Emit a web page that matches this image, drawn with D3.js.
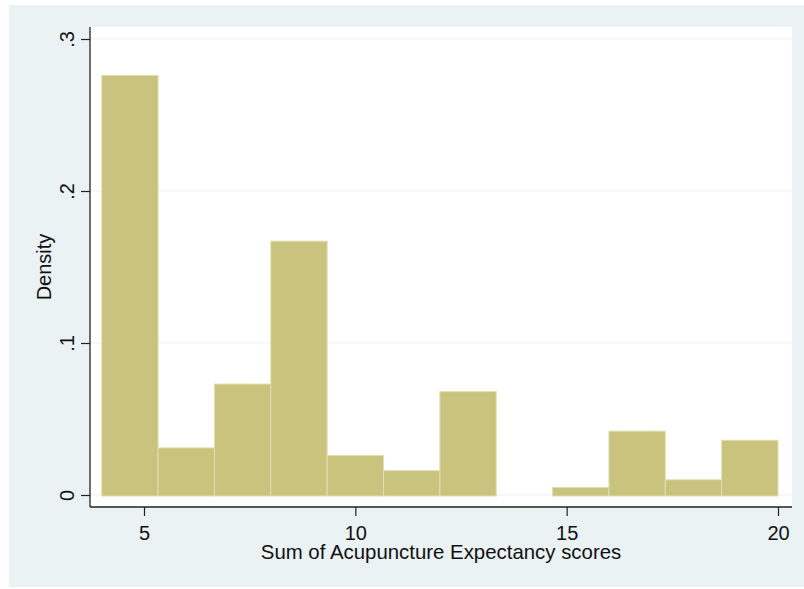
<!DOCTYPE html>
<html>
<head>
<meta charset="utf-8">
<script src="https://cdn.jsdelivr.net/npm/d3@7"></script>
<style>
  html, body { margin: 0; padding: 0; background: #ffffff; }
  svg { display: block; }
  text { font-family: "Liberation Sans", Arial, sans-serif; fill: #111111; }
</style>
</head>
<body>
<svg id="chart" width="804" height="589"></svg>
<script>
// Histogram bins (left/right edges) and density per bin
const binEdges = [4, 16 / 3, 20 / 3, 8, 28 / 3, 32 / 3, 12, 40 / 3, 44 / 3, 16, 52 / 3, 56 / 3, 20];
const densities = [0.276, 0.031, 0.073, 0.167, 0.026, 0.016, 0.068, 0, 0.005, 0.042, 0.010, 0.036];

// Axis ticks and labels
const xTicks = [5, 10, 15, 20];
const yTicks = [0, 0.1, 0.2, 0.3];
const yTickLabels = ["0", ".1", ".2", ".3"];
const xTitle = "Sum of Acupuncture Expectancy scores";
const yTitle = "Density";

const svg = d3.select("#chart");

// Graph region and plot region
const outer = { x: 9, y: 5, w: 795, h: 582 };
const plot = { left: 90, top: 27, right: 792, bottom: 507 };

const x = d3.scaleLinear().domain([5, 20]).range([144, 778]);
const y = d3.scaleLinear().domain([0, 0.3]).range([495, 39]);

svg.append("rect")
  .attr("x", outer.x).attr("y", outer.y)
  .attr("width", outer.w).attr("height", outer.h)
  .attr("fill", "#EAF2F3");

svg.append("rect")
  .attr("x", plot.left).attr("y", plot.top)
  .attr("width", plot.right - plot.left).attr("height", plot.bottom - plot.top)
  .attr("fill", "#ffffff");

// Horizontal grid lines
svg.append("g")
  .selectAll("line")
  .data(yTicks)
  .join("line")
  .attr("x1", plot.left).attr("x2", plot.right)
  .attr("y1", d => y(d)).attr("y2", d => y(d))
  .attr("stroke", "#EAF2F3")
  .attr("stroke-width", 1.2);

// Bars
const bins = densities.map((d, i) => ({ x0: binEdges[i], x1: binEdges[i + 1], d }));
svg.append("g")
  .selectAll("rect")
  .data(bins.filter(b => b.d > 0))
  .join("rect")
  .attr("x", b => x(b.x0))
  .attr("width", b => x(b.x1) - x(b.x0))
  .attr("y", b => y(b.d))
  .attr("height", b => y(0) - y(b.d) + 1)
  .attr("fill", "#C9C37D")
  .attr("stroke", "#E2DEB2")
  .attr("stroke-width", 1);

// Y axis
const yAxis = d3.axisLeft(y)
  .tickValues(yTicks)
  .tickFormat((d, i) => yTickLabels[i])
  .tickSize(9)
  .tickSizeOuter(0)
  .tickPadding(0);

const gy = svg.append("g")
  .attr("transform", `translate(${plot.left},0)`)
  .call(yAxis);
gy.select(".domain").remove();
gy.selectAll(".tick line").attr("stroke", "#222").attr("stroke-width", 1.2);
gy.selectAll(".tick text")
  .attr("font-size", 20)
  .attr("text-anchor", "middle")
  .attr("x", null).attr("dy", null)
  .attr("transform", "translate(-16.5,0) rotate(-90)");

svg.append("line")
  .attr("x1", plot.left).attr("x2", plot.left)
  .attr("y1", plot.top).attr("y2", plot.bottom)
  .attr("stroke", "#222").attr("stroke-width", 1.3);

// X axis
const xAxis = d3.axisBottom(x)
  .tickValues(xTicks)
  .tickFormat(d3.format("d"))
  .tickSize(9)
  .tickSizeOuter(0)
  .tickPadding(0);

const gx = svg.append("g")
  .attr("transform", `translate(0,${plot.bottom})`)
  .call(xAxis);
gx.select(".domain").remove();
gx.selectAll(".tick line").attr("stroke", "#222").attr("stroke-width", 1.2);
gx.selectAll(".tick text")
  .attr("font-size", 20)
  .attr("y", 33).attr("dy", null);

svg.append("line")
  .attr("x1", plot.left).attr("x2", plot.right)
  .attr("y1", plot.bottom).attr("y2", plot.bottom)
  .attr("stroke", "#222").attr("stroke-width", 1.3);

// Axis titles
svg.append("text")
  .attr("x", (plot.left + plot.right) / 2)
  .attr("y", 559)
  .attr("text-anchor", "middle")
  .attr("font-size", 20.4)
  .text(xTitle);

svg.append("text")
  .attr("transform", `translate(51,${(plot.top + plot.bottom) / 2}) rotate(-90)`)
  .attr("text-anchor", "middle")
  .attr("font-size", 20)
  .text(yTitle);
</script>
</body>
</html>
